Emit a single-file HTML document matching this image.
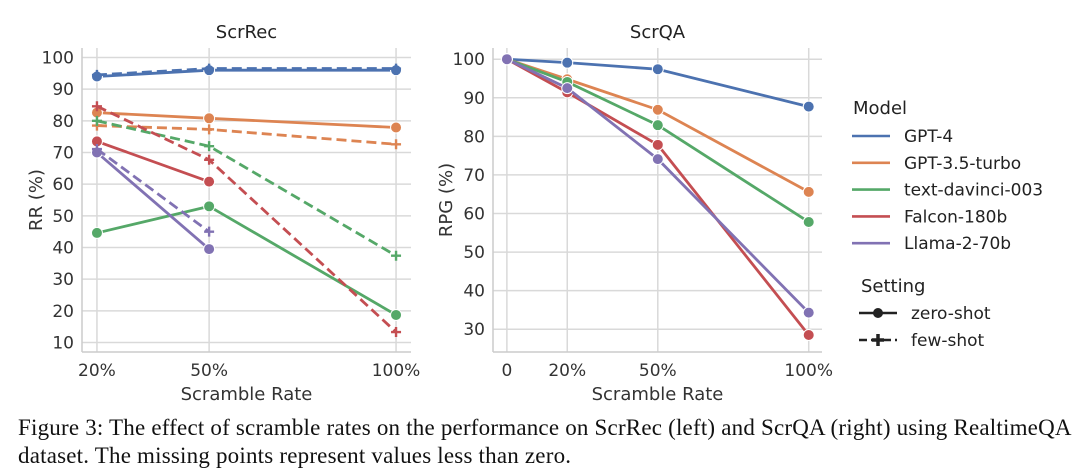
<!DOCTYPE html>
<html><head><meta charset="utf-8">
<style>
body{margin:0;background:#fff;width:1080px;height:475px;overflow:hidden;font-family:"Liberation Sans","DejaVu Sans",sans-serif}
#cap{position:absolute;left:18px;top:414px;font-family:"Liberation Serif",serif;font-size:23px;letter-spacing:0.2px;line-height:28px;color:#111;white-space:nowrap}
</style></head><body>
<svg id="chart" width="1080" height="410" style="position:absolute;left:0;top:0" font-family="DejaVu Sans, Liberation Sans, sans-serif"></svg>
<div id="cap">Figure 3: The effect of scramble rates on the performance on ScrRec (left) and ScrQA (right) using RealtimeQA<br>dataset. The missing points represent values less than zero.</div>
<script>
const models = ["GPT-4","GPT-3.5-turbo","text-davinci-003","Falcon-180b","Llama-2-70b"];
const colors = ["#4c72b0","#dd8452","#55a868","#c44e52","#8172b3"];
const recX = [20,50,100];
const recZero = [[94,96,96],[82.6,80.8,77.9],[44.6,53,18.7],[73.5,60.8,null],[70,39.5,null]];
const recFew = [[94.5,96.5,96.5],[78.5,77.3,72.6],[80,72,37.4],[84.6,67.7,13.3],[71.1,45,null]];
const qaX = [0,20,50,100];
const qaZero = [[100,99.1,97.4,87.7],[100,94.8,86.9,65.6],[100,94.1,82.9,57.8],[100,91.4,77.8,28.5],[100,92.5,74.1,34.3]];
const recYTicks = [10,20,30,40,50,60,70,80,90,100];
const qaYTicks = [30,40,50,60,70,80,90,100];
const recXTicks = [20,50,100], recXLabels = ["20%","50%","100%"];
const qaXTicks = [0,20,50,100], qaXLabels = ["0","20%","50%","100%"];

const svg = document.getElementById('chart');
const NS = "http://www.w3.org/2000/svg";
function mk(tag, attrs, parent){const e=document.createElementNS(NS,tag);for(const k in attrs)e.setAttribute(k,attrs[k]);(parent||svg).appendChild(e);return e;}
function scale(d0,d1,r0,r1){return v=>r0+(v-d0)*(r1-r0)/(d1-d0);}

function panel(cfg){
  const g = mk('g',{});
  
  
  const xs = scale(cfg.xd[0],cfg.xd[1],cfg.L,cfg.R), ys = scale(cfg.yd[0],cfg.yd[1],cfg.B,cfg.T);
  cfg.yTicks.forEach(t=>{
    const l=mk('line',{x1:cfg.L,x2:cfg.R,y1:ys(t),y2:ys(t),stroke:'#d9d9d9','stroke-width':1.5},g);
    
    
    const tx=mk('text',{x:cfg.L-8,y:ys(t)+6,'text-anchor':'end','font-size':17,fill:'#333'},g);tx.textContent=t;
    
    
  });
  cfg.xTicks.forEach((t,i)=>{
    const l=mk('line',{x1:xs(t),x2:xs(t),y1:cfg.T,y2:cfg.B,stroke:'#d9d9d9','stroke-width':1.5},g);
    
    
    const tx=mk('text',{x:xs(t),y:cfg.B+24,'text-anchor':'middle','font-size':17,fill:'#333'},g);tx.textContent=cfg.xLabels[i];
    
    
  });
  mk('line',{x1:cfg.L,x2:cfg.L,y1:cfg.T,y2:cfg.B,stroke:'#ccc','stroke-width':1.5},g);
  mk('line',{x1:cfg.L,x2:cfg.R,y1:cfg.B,y2:cfg.B,stroke:'#ccc','stroke-width':1.5},g);
  const ti=mk('text',{x:(cfg.L+cfg.R)/2,y:38,'text-anchor':'middle','font-size':18,fill:'#222'},g);ti.textContent=cfg.title;
  
  
  const xl=mk('text',{x:(cfg.L+cfg.R)/2,y:cfg.B+48,'text-anchor':'middle','font-size':18,fill:'#333'},g);xl.textContent='Scramble Rate';
  
  
  const yl=mk('text',{x:0,y:0,'text-anchor':'middle','font-size':18,fill:'#333',transform:`translate(${cfg.yLabelX},${(cfg.T+cfg.B)/2}) rotate(-90)`},g);yl.textContent=cfg.yLabel;
  
  
  function series(vals, xv, color, dashed, nm){
    const pts=[];vals.forEach((v,i)=>{if(v!==null)pts.push([xs(xv[i]),ys(v)]);});
    const p=mk('polyline',{points:pts.map(p=>p.join(',')).join(' '),fill:'none',stroke:color,'stroke-width':2.8,'stroke-dasharray':dashed?'10,5':'none'},g);
    
    
    pts.forEach(q=>{
      let m;
      if(dashed){m=mk('path',{d:`M${q[0]-5},${q[1]}h10M${q[0]},${q[1]-5}v10`,stroke:color,'stroke-width':2.4},g);}
      else{m=mk('circle',{cx:q[0],cy:q[1],r:5.5,fill:color,stroke:'#fff','stroke-width':1},g);}
      
      
    });
  }
  cfg.series(series);
}

panel({name:'scrrec-panel',title:'ScrRec',L:82,R:411,T:48,B:352,xd:[16,104],yd:[7,103],yTicks:recYTicks,xTicks:recXTicks,xLabels:recXLabels,yLabel:'RR (%)',yLabelX:42,
  series:s=>{for(let i=0;i<5;i++){s(recZero[i],recX,colors[i],false,models[i]+'-zero-shot');s(recFew[i],recX,colors[i],true,models[i]+'-few-shot');}}});
panel({name:'scrqa-panel',title:'ScrQA',L:493,R:822,T:48,B:352,xd:[-4.6,104.4],yd:[24.1,102.9],yTicks:qaYTicks,xTicks:qaXTicks,xLabels:qaXLabels,yLabel:'RPG (%)',yLabelX:452,
  series:s=>{for(let i=0;i<5;i++){s(qaZero[i],qaX,colors[i],false,models[i]);}}});

// legend
const lg=mk('g',{});


let t=mk('text',{x:853,y:114,'font-size':18,fill:'#222'},lg);t.textContent='Model';
models.forEach((m,i)=>{
  const y=136+i*26.8;
  mk('line',{x1:852,x2:890,y1:y,y2:y,stroke:colors[i],'stroke-width':2.6},lg);
  const tx=mk('text',{x:904,y:y+6,'font-size':17,fill:'#222'},lg);tx.textContent=m;
  
  
});
t=mk('text',{x:861,y:292,'font-size':18,fill:'#222'},lg);t.textContent='Setting';
mk('line',{x1:859,x2:897,y1:313,y2:313,stroke:'#222','stroke-width':2.4},lg);
mk('circle',{cx:878,cy:313,r:5,fill:'#222'},lg);
t=mk('text',{x:911,y:319,'font-size':17,fill:'#222'},lg);t.textContent='zero-shot';


mk('line',{x1:859,x2:897,y1:340,y2:340,stroke:'#222','stroke-width':2.4,'stroke-dasharray':'8,4'},lg);
mk('path',{d:'M872,340h12M878,334v12',stroke:'#222','stroke-width':3.5},lg);
t=mk('text',{x:911,y:346,'font-size':17,fill:'#222'},lg);t.textContent='few-shot';


</script>
</body></html>
